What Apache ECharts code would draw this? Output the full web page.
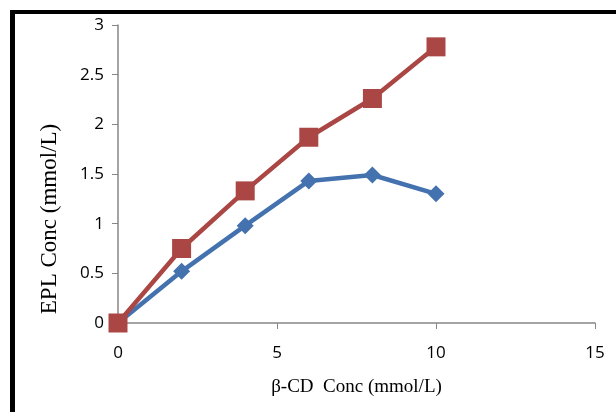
<!DOCTYPE html>
<html><head><meta charset="utf-8">
<script src="https://cdn.jsdelivr.net/npm/echarts@6/dist/echarts.min.js"></script>
<style>html,body{margin:0;padding:0;background:#fff}#c{width:616px;height:412px}</style>
</head><body><div id="c"></div>
<script>
const xValues = [0, 2, 4, 6, 8, 10];
const blueSeries = [0, 0.52, 0.98, 1.43, 1.49, 1.30];
const redSeries = [0, 0.75, 1.33, 1.87, 2.26, 2.78];
const xTitle = 'β-CD  Conc (mmol/L)';
const yTitle = 'EPL Conc (mmol/L)';

const chart = echarts.init(document.getElementById('c'));
chart.setOption({
  animation: false,
  grid: {left: 118, right: 21, top: 25, bottom: 89},
  xAxis: {
    type: 'value', min: 0, max: 15, interval: 5,
    axisLine: {lineStyle: {color: '#868686', width: 1.5}},
    axisTick: {show: true, length: 6, lineStyle: {color: '#868686'}},
    splitLine: {show: false},
    axisLabel: {color: '#000', fontSize: 17, fontFamily: 'Open Sans', margin: 22},
    name: xTitle, nameLocation: 'middle', nameGap: 55,
    nameTextStyle: {color: '#000', fontSize: 19, fontFamily: 'Liberation Serif'}
  },
  yAxis: {
    type: 'value', min: 0, max: 3, interval: 0.5,
    axisLine: {show: true, lineStyle: {color: '#868686', width: 1.5}},
    axisTick: {show: true, length: 6, lineStyle: {color: '#868686'}},
    splitLine: {show: false},
    axisLabel: {color: '#000', fontSize: 17, fontFamily: 'Open Sans', margin: 14}
  },
  series: [
    {
      type: 'line', data: xValues.map((x, i) => [x, blueSeries[i]]),
      symbol: 'diamond', symbolSize: 17,
      lineStyle: {color: '#4472AF', width: 4.5},
      itemStyle: {color: '#4472AF'}
    },
    {
      type: 'line', data: xValues.map((x, i) => [x, redSeries[i]]),
      symbol: 'rect', symbolSize: 19,
      lineStyle: {color: '#AA4643', width: 4.5},
      itemStyle: {color: '#AA4643'}
    }
  ],
  graphic: [
    {type: 'rect', shape: {x: 10, y: 10, width: 606, height: 4}, style: {fill: '#000'}},
    {type: 'rect', shape: {x: 10, y: 10, width: 5, height: 402}, style: {fill: '#000'}},
    {type: 'text', x: 50, y: 219, rotation: Math.PI / 2,
     style: {text: yTitle, fill: '#000', fontSize: 23, fontFamily: 'Liberation Serif',
             align: 'center', verticalAlign: 'middle'}}
  ]
});
</script></body></html>
